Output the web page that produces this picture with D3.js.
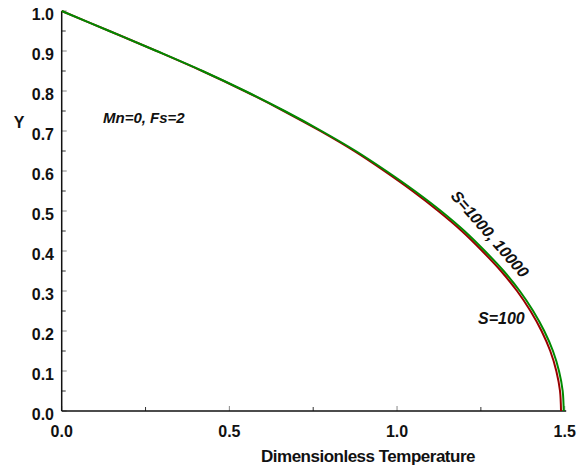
<!DOCTYPE html>
<html>
<head>
<meta charset="utf-8">
<script src="https://cdn.jsdelivr.net/npm/d3@7"></script>
<style>
body{margin:0;background:#fff;}
text{font-family:"Liberation Sans",Arial,sans-serif;font-weight:bold;fill:#111;}
</style>
</head>
<body>
<svg id="uno"></svg>
<script>
// Y levels where the curves were read
let yLevels=[1.0,0.95,0.9,0.85,0.8,0.75,0.7,0.65,0.6,0.55,0.5,0.45,0.4,0.35,0.3,0.25,0.2,0.15,0.1,0.05,0.0];
// dimensionless temperature for each curve
let tS100=[0,0.142,0.283,0.419,0.545,0.662,0.771,0.872,0.962,1.046,1.123,1.193,1.254,1.31,1.358,1.398,1.431,1.457,1.475,1.486,1.489];
let tS10000=[0,0.142,0.283,0.42,0.547,0.665,0.775,0.877,0.968,1.053,1.131,1.201,1.262,1.318,1.366,1.406,1.439,1.465,1.483,1.494,1.497];

let xMajor=[0.0,0.5,1.0,1.5];
let xMinor=[0.25,0.75,1.25];
let yMajor=[0.0,0.1,0.2,0.3,0.4,0.5,0.6,0.7,0.8,0.9,1.0];
let yMinor=[0.05,0.15,0.25,0.35,0.45,0.55,0.65,0.75,0.85,0.95];

let series=[
  {name:"S=100",t:tS100,color:"#9a0000"},
  {name:"S=10000",t:tS10000,color:"#008a00"}
];

let misvg=d3.select("#uno")
.attr("width",585)
.attr("height",470)

let x=d3.scaleLinear().domain([0,1.5]).range([61.7,564.7]);
let y=d3.scaleLinear().domain([0,1]).range([411,11]);

// ticks (inward)
let g=misvg.append("g");
g.selectAll(".ym").data(yMajor).enter().append("line")
.attr("x1",x(0)).attr("x2",x(0)+5)
.attr("y1",d=>y(d)).attr("y2",d=>y(d))
.attr("stroke","#888").attr("stroke-width",1)
g.selectAll(".yn").data(yMinor).enter().append("line")
.attr("x1",x(0)).attr("x2",x(0)+4)
.attr("y1",d=>y(d)).attr("y2",d=>y(d))
.attr("stroke","#333").attr("stroke-width",1)
g.selectAll(".xm").data(xMajor).enter().append("line")
.attr("x1",d=>x(d)).attr("x2",d=>x(d))
.attr("y1",y(0)).attr("y2",y(0)-5)
.attr("stroke","#888").attr("stroke-width",1)
g.selectAll(".xn").data(xMinor).enter().append("line")
.attr("x1",d=>x(d)).attr("x2",d=>x(d))
.attr("y1",y(0)).attr("y2",y(0)-4)
.attr("stroke","#333").attr("stroke-width",1)

// axis lines
misvg.append("line").attr("x1",x(0)).attr("x2",x(0)).attr("y1",y(0)).attr("y2",y(1))
.attr("stroke","#111").attr("stroke-width",1.5)
misvg.append("line").attr("x1",x(0)).attr("x2",x(1.5)+1.5).attr("y1",y(0)).attr("y2",y(0))
.attr("stroke","#111").attr("stroke-width",1.5)

// tick labels
misvg.selectAll(".xl").data(xMajor).enter().append("text")
.attr("x",d=>x(d)).attr("y",436.5)
.attr("text-anchor","middle").attr("font-size",16)
.text(d=>d.toFixed(1))
misvg.selectAll(".yl").data(yMajor).enter().append("text")
.attr("x",54).attr("y",d=>y(d)+9)
.attr("text-anchor","end").attr("font-size",16)
.text(d=>d.toFixed(1))

// curves
let linea=d3.line()
.x(d=>x(d[0])).y(d=>y(d[1]))
.curve(d3.curveCatmullRom)

misvg.selectAll(".curva").data(series).enter().append("path")
.attr("d",s=>linea(s.t.map((t,i)=>[t,yLevels[i]])))
.attr("fill","none")
.attr("stroke",s=>s.color)
.attr("stroke-width",2)

// labels
misvg.append("text").attr("x",368).attr("y",462).attr("text-anchor","middle")
.attr("font-size",17).attr("letter-spacing",-0.5).text("Dimensionless Temperature")
misvg.append("text").attr("x",19).attr("y",128).attr("text-anchor","middle")
.attr("font-size",16).text("Y")
misvg.append("text").attr("x",103).attr("y",123).attr("font-size",15)
.attr("font-style","italic").text("Mn=0, Fs=2")
misvg.append("text").attr("x",478).attr("y",324).attr("font-size",16)
.attr("font-style","italic").text("S=100")
misvg.append("text").attr("transform","translate(490,234) rotate(49)")
.attr("text-anchor","middle").attr("dy","0.35em").attr("font-size",16)
.attr("font-style","italic").text("S=1000, 10000")
</script>
</body>
</html>
